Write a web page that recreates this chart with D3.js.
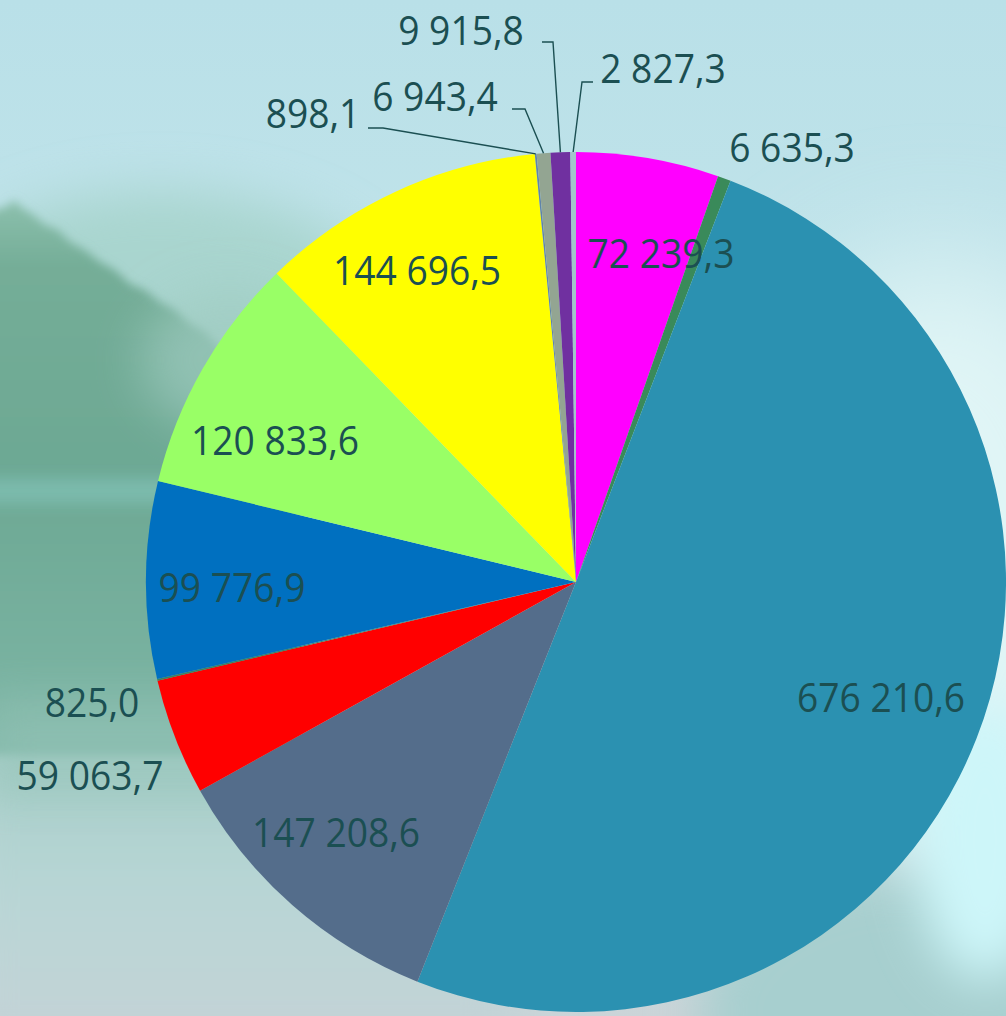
<!DOCTYPE html>
<html><head><meta charset="utf-8">
<script src="https://cdn.jsdelivr.net/npm/d3@7"></script>
<style>html,body{margin:0;padding:0;overflow:hidden;background:#c4e3e8}</style>
</head><body><svg id="c" width="1006" height="1016"></svg>
<script>
// ---- data ----
const values = [72239.3, 6635.3, 676210.6, 147208.6, 59063.7, 825.0, 99776.9, 120833.6, 144696.5, 898.1, 6943.4, 9915.8, 2827.3];
const sliceColors = ["#ff00ff","#3a8a5a","#2b91b1","#546d8b","#ff0000","#3f7f5f","#0070c0","#99ff66","#ffff00","#5f84ab","#93a592","#7030a0","#a3c4ca"];
// label layout: [centre x, baseline y]
const labelPos = [[661,268],[792,162],[881,712],[336,847],[90,790],[92,717],[232,602],[275,455],[417,285],[313,128],[435,111],[461,45],[663,83]];
// leader line elbows (label side), null = no leader
const leaderElbow = [null,null,null,null,null,null,null,null,null,
  [[368,128],[383,128]], [[512,109],[525,109]], [[542,42],[553,42]], [[593,82],[582,82]]];

const W = 1006, H = 1016, cx = 576, cy = 582, R = 430;
const svg = d3.select("#c");
const defs = svg.append("defs");

function blur(id, sd){
  defs.append("filter").attr("id", id).attr("x","-50%").attr("y","-50%").attr("width","200%").attr("height","200%")
    .append("feGaussianBlur").attr("stdDeviation", sd);
}
blur("b60",60); blur("b25",25); blur("b8",8); blur("b5",5);
function lin(id, stops, vertical=true){
  const g = defs.append("linearGradient").attr("id", id)
    .attr("x1",0).attr("y1",0).attr("x2", vertical?0:1).attr("y2", vertical?1:0);
  stops.forEach(s => g.append("stop").attr("offset", s[0]).attr("stop-color", s[1]));
}
lin("bgGrad", [[0,"#b9e0e8"],[0.35,"#c2e4ea"],[0.7,"#c6e3e6"],[1,"#cbd4d8"]]);
lin("hillGrad", [[0,"#8cc0ad"],[0.12,"#74ad97"],[0.5,"#6ca893"],[1,"#7eb6a6"]]);
lin("lowGrad", [[0,"#a6cec8"],[0.5,"#b9d6d6"],[1,"#c6d2d7"]]);

const bg = svg.append("g");
bg.append("rect").attr("width",W).attr("height",H).attr("fill","url(#bgGrad)");
bg.append("ellipse").attr("cx",940).attr("cy",560).attr("rx",200).attr("ry",300).attr("fill","#e0f5f6").attr("filter","url(#b60)");
bg.append("ellipse").attr("cx",160).attr("cy",330).attr("rx",240).attr("ry",140).attr("fill","#a9d5cf").attr("filter","url(#b25)");
bg.append("rect").attr("x",-40).attr("y",740).attr("width",560).attr("height",320).attr("fill","url(#lowGrad)").attr("filter","url(#b25)");
bg.append("path")
  .attr("d","M-20,215 L8,206 L14,200 L22,208 L32,214 L45,225 L58,230 L70,242 L85,250 L100,262 L115,270 L130,284 L145,290 L160,302 L175,310 L190,324 L205,332 L220,348 L235,360 L250,378 L270,400 L290,440 L300,480 L300,755 L-20,755 Z")
  .attr("fill","url(#hillGrad)").attr("filter","url(#b5)");
bg.append("ellipse").attr("cx",230).attr("cy",360).attr("rx",90).attr("ry",70).attr("fill","#9fcbc0").attr("opacity",0.7).attr("filter","url(#b25)");
bg.append("rect").attr("x",-20).attr("y",478).attr("width",320).attr("height",26).attr("fill","#80c0b4").attr("opacity",0.8).attr("filter","url(#b8)");
bg.append("rect").attr("x",-20).attr("y",700).attr("width",320).attr("height",90).attr("fill","#93c2b6").attr("opacity",0.7).attr("filter","url(#b25)");
bg.append("ellipse").attr("cx",900).attr("cy",1010).attr("rx",200).attr("ry",140).attr("fill","#a7cfcf").attr("filter","url(#b25)");
bg.append("ellipse").attr("cx",985).attr("cy",840).attr("rx",70).attr("ry",140).attr("fill","#cdf6f9").attr("filter","url(#b25)");

// ---- pie ----
const pie = d3.pie().sort(null).value(d => d);
const arcs = pie(values);
const arc = d3.arc().innerRadius(0).outerRadius(R);
const edge = d3.arc().innerRadius(R).outerRadius(R);
const g = svg.append("g").attr("transform", `translate(${cx},${cy})`);
g.selectAll("path.slice").data(arcs).join("path")
  .attr("class","slice")
  .attr("d", arc)
  .attr("fill", (d,i) => sliceColors[i]);

// ---- labels ----
const fmt = d3.formatLocale({decimal: ",", thousands: "\u00a0", grouping: [3]}).format(",.1f");
const ink = "#1b4f52";
const lines = svg.append("g");
arcs.forEach((d,i) => {
  const el = leaderElbow[i];
  if (!el) return;
  const p = edge.centroid(d);
  const pts = [el[0], el[1], [p[0]+cx, p[1]+cy]];
  lines.append("path").attr("d", d3.line()(pts)).attr("fill","none").attr("stroke", ink).attr("stroke-width",1.4);
});
svg.append("g").selectAll("text").data(arcs).join("text")
  .attr("transform", (d,i) => `translate(${labelPos[i][0]},${labelPos[i][1]}) scale(0.93,1)`)
  .attr("text-anchor","middle")
  .attr("font-family","'Open Sans', sans-serif")
  .attr("font-size", 40)
  .attr("fill", ink)
  .text(d => fmt(d.data));
</script></body></html>
